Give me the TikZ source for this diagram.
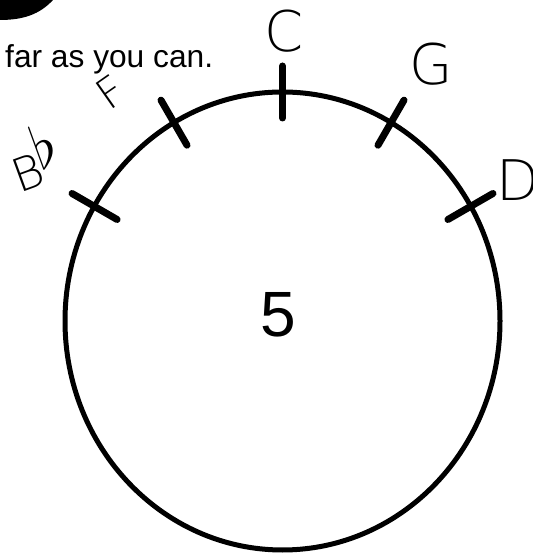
\documentclass[tikz,border=0pt]{standalone}
\usepackage{fontspec}
\usepackage{graphicx}
\setmainfont{Liberation Sans}
\newfontfamily\handfont{DejaVu Sans ExtraLight}
\tikzset{
  rim/.style={line width=5pt},
  tickmark/.style={line width=7pt, line cap=round},
  note/.style={font=\handfont\fontsize{56}{60}\selectfont, inner sep=0pt}
}
\begin{document}
\begin{tikzpicture}[x=1pt,y=1pt]
	\useasboundingbox (0,0) rectangle (532,553);
	\fill (0,553) -- (53,553) .. controls (40,539) and (24,533) .. (0,533) -- cycle;
	\node[anchor=base west, inner sep=0pt, font=\fontsize{31.7}{34}\selectfont] (instr) at (5,485) {far as you can.};
	\coordinate (ctr) at (282.5,232);
	\draw[rim] (ctr) ellipse [x radius=217.5, y radius=229];
	\foreach \a in {30,60,...,150}{
		\path (ctr) ++(\a:191 and 203) coordinate (in\a);
		\path (ctr) ++(\a:243 and 255) coordinate (out\a);
		\draw[tickmark] (in\a) -- (out\a);
	}
	\node[inner sep=0pt, font=\fontsize{64}{68}\selectfont] (five) at (278,238) {5};
	\node[note] (C) at (284,522) {C};
	\node[note] (G) at (431,489) {G};
	\node[note, anchor=west] (D) at (496,373) {D};
	\node[note, rotate=35, font=\handfont\fontsize{42}{46}\selectfont] (F) at (111,461) {F};
	\node[note, rotate=20, font=\handfont\fontsize{46}{50}\selectfont] (Bb) at (33,396)
		{B\kern-3pt\raisebox{14pt}{\scalebox{2.4}{$\flat$}}};
\end{tikzpicture}
\end{document}
